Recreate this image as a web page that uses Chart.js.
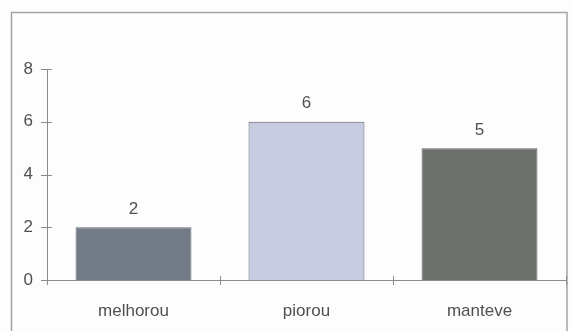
<!DOCTYPE html>
<html>
<head>
<meta charset="utf-8">
<script src="https://cdn.jsdelivr.net/npm/chart.js@4.4.1/dist/chart.umd.min.js"></script>
<style>
  html, body { margin: 0; padding: 0; background: #fdfdfd; }
  #wrap { width: 571px; height: 331px; position: relative; }
</style>
</head>
<body>
<div id="wrap"><canvas id="c" width="571" height="331"></canvas></div>
<script>
// Categories and values
const categories = ['melhorou', 'piorou', 'manteve'];
const counts = [2, 6, 5];
const yTicks = [0, 2, 4, 6, 8];

const barFills = ['#737b86', '#c7cce0', '#6c716e'];
const barEdges = ['#626a72', '#5a5e6a', '#5f6461'];

const FONT = '"Liberation Sans", Arial, sans-serif';
const INK = '#505050';
const AXIS = '#8c8c8c';

// Outer frame, value labels and cross-axis tick marks
const decor = {
  id: 'decor',
  beforeDraw(chart) {
    const ctx = chart.ctx;
    ctx.save();
    ctx.strokeStyle = '#a3a3a3';
    ctx.lineWidth = 1.5;
    ctx.strokeRect(11.5, 12.5, 555.5, 340);
    ctx.restore();
  },
  afterDraw(chart) {
    const ctx = chart.ctx;
    const x = chart.scales.x, y = chart.scales.y;
    ctx.save();
    ctx.strokeStyle = AXIS;
    ctx.lineWidth = 1;
    // y ticks crossing the axis line
    yTicks.forEach(v => {
      const py = Math.round(y.getPixelForValue(v)) + 0.5;
      ctx.beginPath();
      ctx.moveTo(x.left - 6, py);
      ctx.lineTo(x.left + 5, py);
      ctx.stroke();
    });
    // x ticks at category boundaries
    const yb = Math.round(y.getPixelForValue(0));
    for (let i = 0; i <= categories.length; i++) {
      const px = Math.round(i === categories.length ? x.right : (i === 0 ? x.left : (x.getPixelForValue(i - 1) + x.getPixelForValue(i)) / 2)) + 0.5;
      ctx.beginPath();
      ctx.moveTo(px, yb - 4);
      ctx.lineTo(px, yb + 5);
      ctx.stroke();
    }
    // value labels above the bars
    ctx.fillStyle = INK;
    ctx.font = '17px ' + FONT;
    ctx.textAlign = 'center';
    ctx.textBaseline = 'middle';
    const meta = chart.getDatasetMeta(0);
    meta.data.forEach((bar, i) => {
      ctx.fillText(String(counts[i]), bar.x, bar.y - 18);
    });
    ctx.restore();
  }
};

new Chart(document.getElementById('c'), {
  type: 'bar',
  data: {
    labels: categories,
    datasets: [{
      data: counts,
      backgroundColor: barFills,
      borderColor: barEdges,
      borderWidth: 1,
      borderSkipped: 'bottom',
      categoryPercentage: 1,
      barPercentage: 0.67
    }]
  },
  options: {
    responsive: false,
    animation: false,
    devicePixelRatio: 1,
    layout: { padding: { top: 69, right: 5, left: 0, bottom: 0 } },
    plugins: { legend: { display: false }, tooltip: { enabled: false } },
    scales: {
      x: {
        offset: true,
        grid: { display: false, drawTicks: false },
        border: { display: true, color: AXIS, width: 1 },
        ticks: { color: INK, font: { family: FONT, size: 17 }, padding: 21 },
        afterFit(s) { s.height = 51; }
      },
      y: {
        min: 0,
        max: 8,
        afterBuildTicks(s) { s.ticks = yTicks.map(v => ({ value: v })); },
        grid: { display: false, drawTicks: false },
        border: { display: true, color: AXIS, width: 1 },
        ticks: { color: INK, font: { family: FONT, size: 17 }, padding: 14 },
        afterFit(s) { s.width = 47; }
      }
    }
  },
  plugins: [decor]
});
</script>
</body>
</html>
